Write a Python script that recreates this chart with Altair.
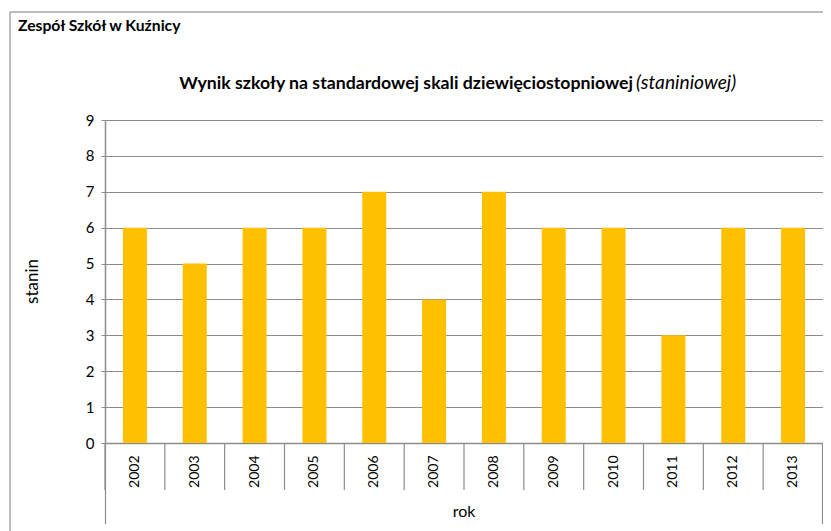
import altair as alt
import pandas as pd

years = ["2002", "2003", "2004", "2005", "2006", "2007", "2008", "2009", "2010", "2011", "2012", "2013"]
stanin = [6, 5, 6, 6, 7, 4, 7, 6, 6, 3, 6, 6]
y_ticks = [0, 1, 2, 3, 4, 5, 6, 7, 8, 9]

header = "Zespół Szkół w Kuźnicy"
title_bold = "Wynik szkoły na standardowej skali dziewięciostopniowej"
title_italic = "(staniniowej)"
x_title = "rok"
y_title = "stanin"

df = pd.DataFrame({"rok": years, "stanin": stanin})
one = pd.DataFrame({"k": [0]})

W, H = 718, 323
FONT = "Lato"
GRAY = "#8c8c8c"
BORDER = "#a6a6a6"

xscale = alt.Scale(domain=years, paddingInner=0, paddingOuter=0)

bars = alt.Chart(df).mark_bar(color="#FFC000", size=24).encode(
    x=alt.X("rok:N", scale=xscale, sort=years,
            axis=alt.Axis(title=None, labelAngle=-90, labelFont=FONT, labelFontSize=14,
                          labelColor="#000000", labelPadding=12, ticks=False,
                          domainColor=GRAY, domainWidth=1.5)),
    y=alt.Y("stanin:Q", scale=alt.Scale(domain=[0, 9], nice=False),
            axis=alt.Axis(title=None, values=y_ticks, labelFont=FONT, labelFontSize=15,
                          labelColor="#000000", labelPadding=7, tickSize=4, tickColor=GRAY,
                          domainColor=GRAY, domainWidth=1.5, grid=True, gridColor=GRAY,
                          gridWidth=1.2)),
)

seps = alt.Chart(df).mark_rule(color=GRAY, strokeWidth=1.2).encode(
    x=alt.X("rok:N", scale=xscale, sort=years, bandPosition=0),
    y=alt.value(H),
    y2=alt.value(H + 47),
)

left_long = alt.Chart(one).mark_rule(color=GRAY, strokeWidth=1.2).encode(
    x=alt.value(0.5), y=alt.value(H), y2=alt.value(H + 81))
right_long = alt.Chart(one).mark_rule(color=GRAY, strokeWidth=1.2).encode(
    x=alt.value(W - 0.5), y=alt.value(H), y2=alt.value(H + 81))

border_top = alt.Chart(one).mark_rule(color=BORDER, strokeWidth=1.5).encode(
    x=alt.value(-95), x2=alt.value(W + 10), y=alt.value(-108))
border_left = alt.Chart(one).mark_rule(color=BORDER, strokeWidth=1.5).encode(
    x=alt.value(-95), y=alt.value(-108), y2=alt.value(H + 100))

t_header = alt.Chart(one).mark_text(text=header, font=FONT, fontSize=15.7, fontWeight="bold",
                                    align="left", baseline="alphabetic", color="#000000").encode(
    x=alt.value(-87), y=alt.value(-89))
t_bold = alt.Chart(one).mark_text(text=title_bold, font=FONT, fontSize=17.7, fontWeight="bold",
                                  align="right", baseline="alphabetic", color="#000000").encode(
    x=alt.value(528), y=alt.value(-31))
t_ital = alt.Chart(one).mark_text(text=title_italic, font=FONT, fontSize=19.2, fontStyle="italic",
                                  align="left", baseline="alphabetic", color="#000000").encode(
    x=alt.value(531), y=alt.value(-31))
t_x = alt.Chart(one).mark_text(text=x_title, font=FONT, fontSize=16, align="center",
                               baseline="middle", color="#000000").encode(
    x=alt.value(W / 2), y=alt.value(H + 69))
t_y = alt.Chart(one).mark_text(text=y_title, font=FONT, fontSize=17, align="center",
                               baseline="middle", angle=270, color="#000000").encode(
    x=alt.value(-72), y=alt.value(H / 2))

chart = alt.layer(
    bars, seps, left_long, right_long, border_top, border_left,
    t_header, t_bold, t_ital, t_x, t_y
).properties(
    width=W, height=H,
    autosize=alt.AutoSizeParams(type="none"),
    padding={"left": 97, "top": 112, "right": 0, "bottom": 88},
    background="white",
).configure_view(stroke=None)

chart.save("out.html", embed_options={"renderer": "svg", "actions": False})
